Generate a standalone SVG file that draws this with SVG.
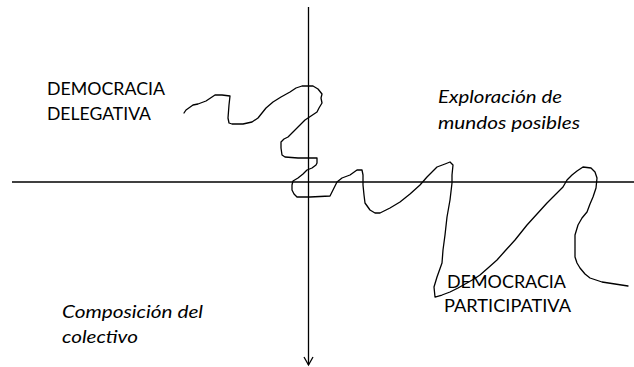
<svg xmlns="http://www.w3.org/2000/svg" width="634" height="367" viewBox="0 0 634 367">
<style>
.ax{stroke:#000;stroke-width:1.3;fill:none}
.sq{stroke:#000;stroke-width:1.3;fill:none;stroke-linejoin:round;stroke-linecap:round}
.t{font-family:Lato,"Open Sans","Liberation Sans",sans-serif;font-size:18px;fill:#000}
.i{font-style:italic}
</style>
<defs>
<marker id="arr" markerWidth="12" markerHeight="12" refX="9" refY="6" orient="auto" markerUnits="userSpaceOnUse" viewBox="0 0 12 12">
<path d="M1,1.5 L9,6 L1,10.5" fill="none" stroke="#000" stroke-width="1.3"/>
</marker>
</defs>
<rect width="634" height="367" fill="#fff"/>
<g id="connectors">
<line class="ax" x1="12" y1="182" x2="634" y2="182"/>
<line class="ax" x1="308.5" y1="7" x2="308.5" y2="365" marker-end="url(#arr)"/>
<polyline class="sq" points="184,113 186,110 193,105 198,104 206,101 212,97 215,95 222,95 230,96 229,105 228,118 229,123 232,124 243,124 252,122 258,118 262,113 266,108 273,102 281,97 290,92 296,88 302,86 313,86 318,89 322,94 321,98 322,103 319,108 317,112 311,116 305,120 299,126 293,132 288,137 284,139 281,142 281,148 282,155 285,157 298,158 317,158 317,163 316,165 312,168 307,170 303,174 298,178 293,181 292,185 292,190 294,194 297,197 310,197 330,196 333,190 337,182 342,178 350,175 357,170 362,170 363,175 363,185 364,195 365,203 370,210 375,213 380,213 390,208 400,202 410,194 420,185 427,177 437,167 445,164 450,162 453,165 452,175 452,183 450,200 447,217 445,235 443,250 442,263 437,277 434,287 435,297 442,295 450,292 458,288 467,283 474,279 480,275 488,268 497,260 505,251 515,240 527,225 537,214 547,203 556,194 563,187 567,180 572,175 577,171 583,167 591,168 595,172 597,178 596,188 593,197 590,204 587,212 582,218 578,225 575,235 575,246 575,257 577,263 580,268 585,274 590,278 596,280 602,282 615,284 628,286"/>
</g>
<g id="n-delegativa">
<text class="t" x="47" y="95" textLength="118" lengthAdjust="spacingAndGlyphs">DEMOCRACIA</text>
<text class="t" x="47" y="120" textLength="104" lengthAdjust="spacingAndGlyphs">DELEGATIVA</text>
</g>
<g id="n-exploracion">
<text class="t i" x="438" y="103" textLength="124" lengthAdjust="spacingAndGlyphs">Exploración de</text>
<text class="t i" x="438" y="129" textLength="142" lengthAdjust="spacingAndGlyphs">mundos posibles</text>
</g>
<g id="n-participativa">
<text class="t" x="447" y="288" textLength="119" lengthAdjust="spacingAndGlyphs">DEMOCRACIA</text>
<text class="t" x="444" y="312" textLength="127" lengthAdjust="spacingAndGlyphs">PARTICIPATIVA</text>
</g>
<g id="n-composicion">
<text class="t i" x="62" y="318" textLength="141" lengthAdjust="spacingAndGlyphs">Composición del</text>
<text class="t i" x="62" y="343" textLength="76" lengthAdjust="spacingAndGlyphs">colectivo</text>
</g>
</svg>
